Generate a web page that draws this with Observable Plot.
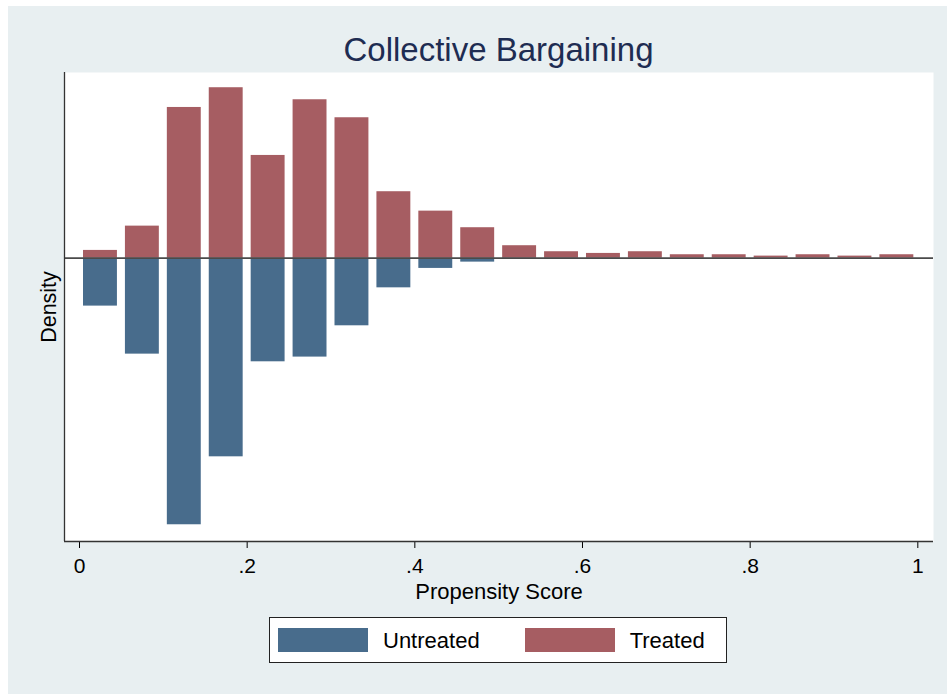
<!DOCTYPE html>
<html>
<head>
<meta charset="utf-8">
<script src="https://cdn.jsdelivr.net/npm/d3@7"></script>
<script src="https://cdn.jsdelivr.net/npm/@observablehq/plot@0.6"></script>
<style>
  html, body { margin: 0; padding: 0; background: #ffffff; }
  #page { position: relative; width: 947px; height: 694px; overflow: hidden;
          font-family: "Liberation Sans", Arial, Helvetica, sans-serif; }
  #bg { position: absolute; left: 8px; top: 6px; right: 0; bottom: 0; background: #e8eff1; }
  #title { position: absolute; left: 64px; width: 869px; top: 33px; text-align: center;
           font-size: 33px; line-height: 33px; color: #1e2c52; white-space: nowrap; }
  #chart { position: absolute; left: 0; top: 0; }
  #legend { position: absolute; left: 269px; top: 617px; width: 458px; height: 46px;
            box-sizing: border-box; border: 1px solid #222; background: #ffffff;
            display: flex; align-items: center; padding-left: 8px; }
  .item { display: flex; align-items: center; margin-right: 45px; }
  .sw { width: 90px; height: 24px; margin-right: 15px; }
  .lab { font-size: 22px; line-height: 22px; color: #000; position: relative; top: 1px; }
</style>
</head>
<body>
<div id="page">
  <div id="bg"></div>
  <div id="chart"></div>
  <div id="title"></div>
  <div id="legend"></div>
</div>
<script>
// ---- data ----
const chartTitle = "Collective Bargaining";
const xLabel = "Propensity Score";
const yLabel = "Density";
const binLower = [0, 0.05, 0.10, 0.15, 0.20, 0.25, 0.30, 0.35, 0.40, 0.45,
                  0.50, 0.55, 0.60, 0.65, 0.70, 0.75, 0.80, 0.85, 0.90, 0.95];
const binWidth = 0.05;
const treated = [0.164, 0.681, 3.206, 3.626, 2.185, 3.370, 2.987, 1.413, 1.000, 0.647,
                 0.264, 0.136, 0.100, 0.136, 0.072, 0.072, 0.043, 0.072, 0.043, 0.072];
const untreated = [1.021, 2.043, 5.674, 4.228, 2.206, 2.106, 1.440, 0.632, 0.219, 0.085,
                   0.021, 0.021, 0.015, 0, 0, 0, 0, 0, 0, 0];
const seriesNames = ["Untreated", "Treated"];
const seriesColors = ["#486c8c", "#a65d62"];
const xTicks = [0, 0.2, 0.4, 0.6, 0.8, 1];
const xTickLabels = ["0", ".2", ".4", ".6", ".8", "1"];
const xDomain = [-0.0179, 1.0187];
const yDomain = [-6.03, 3.95];

const rows = binLower.map((b, i) => ({x1: b, x2: b + binWidth, treated: treated[i], untreated: untreated[i]}));

const chart = Plot.plot({
  width: 947,
  height: 694,
  marginTop: 72,
  marginRight: 14,
  marginBottom: 153,
  marginLeft: 64,
  style: {background: "transparent", fontSize: "21px", color: "#000",
          fontFamily: "'Liberation Sans', Arial, Helvetica, sans-serif"},
  x: {domain: xDomain, ticks: xTicks,
      tickFormat: d => xTickLabels[xTicks.findIndex(t => Math.abs(t - d) < 1e-9)],
      tickSize: 7, tickPadding: 10, label: null},
  y: {domain: yDomain, axis: null, label: null},
  marks: [
    Plot.frame({fill: "white", stroke: null}),
    Plot.rect(rows, {x1: "x1", x2: "x2", y1: () => 0, y2: d => -d.untreated,
                     fill: seriesColors[0], insetLeft: 4, insetRight: 4}),
    Plot.rect(rows, {x1: "x1", x2: "x2", y1: () => 0, y2: "treated",
                     fill: seriesColors[1], insetLeft: 4, insetRight: 4}),
    Plot.ruleY([0], {stroke: "#4a4a4a", strokeWidth: 1.6}),
    Plot.ruleX([xDomain[0]], {stroke: "#333", strokeWidth: 1.3}),
    Plot.ruleY([yDomain[0]], {stroke: "#333", strokeWidth: 1.3}),
    Plot.text([xLabel], {frameAnchor: "bottom", dy: 42, lineAnchor: "top",
                         fontSize: 22, fill: "#000", text: d => d}),
    Plot.text([yLabel], {frameAnchor: "left", dx: -9, rotate: -90, textAnchor: "middle",
                         lineAnchor: "bottom", fontSize: 21.5, fill: "#000", text: d => d})
  ]
});
document.getElementById("chart").appendChild(chart);
document.getElementById("title").textContent = chartTitle;

const legend = document.getElementById("legend");
seriesNames.forEach((name, i) => {
  const item = document.createElement("div");
  item.className = "item";
  const sw = document.createElement("div");
  sw.className = "sw";
  sw.style.background = seriesColors[i];
  const lab = document.createElement("span");
  lab.className = "lab";
  lab.textContent = name;
  item.appendChild(sw);
  item.appendChild(lab);
  legend.appendChild(item);
});
</script>
</body>
</html>
